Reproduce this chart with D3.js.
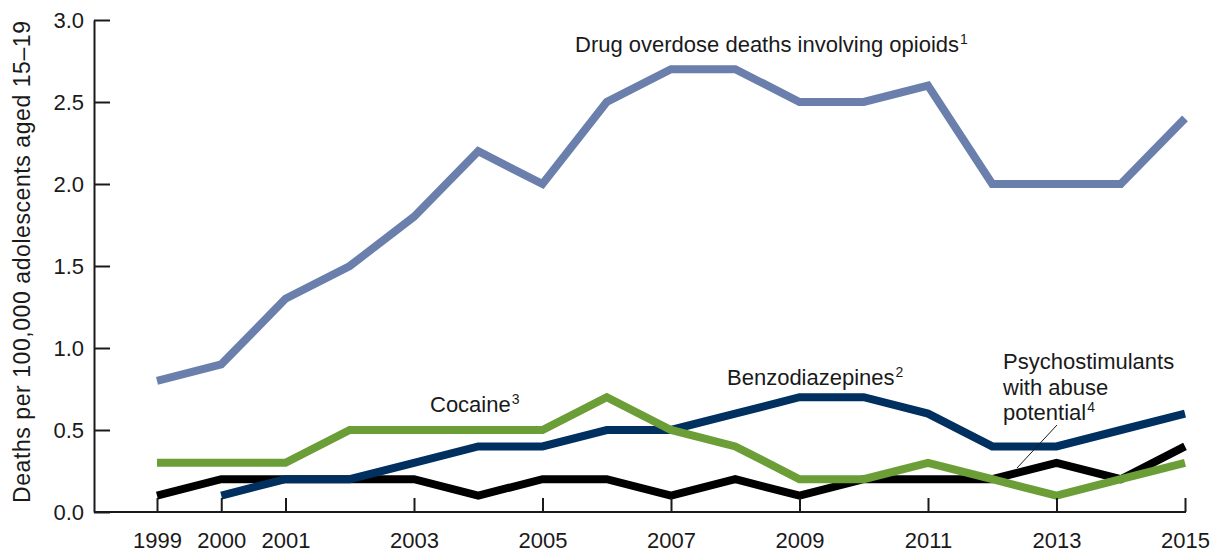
<!DOCTYPE html>
<html>
<head>
<meta charset="utf-8">
<script src="https://cdn.jsdelivr.net/npm/d3@7"></script>
<style>
  html, body { margin: 0; padding: 0; background: #fff; }
  svg { display: block; font-family: "Liberation Sans", Arial, sans-serif; }
</style>
</head>
<body>
<svg id="chart" width="1217" height="554"></svg>
<script>
// Death rates per 100,000 adolescents aged 15–19, 1999–2015
const years = [1999, 2000, 2001, 2002, 2003, 2004, 2005, 2006, 2007, 2008, 2009, 2010, 2011, 2012, 2013, 2014, 2015];
const opioids = [0.8, 0.9, 1.3, 1.5, 1.8, 2.2, 2.0, 2.5, 2.7, 2.7, 2.5, 2.5, 2.6, 2.0, 2.0, 2.0, 2.4];
const benzodiazepines = [null, 0.1, 0.2, 0.2, 0.3, 0.4, 0.4, 0.5, 0.5, 0.6, 0.7, 0.7, 0.6, 0.4, 0.4, 0.5, 0.6];
const cocaine = [0.3, 0.3, 0.3, 0.5, 0.5, 0.5, 0.5, 0.7, 0.5, 0.4, 0.2, 0.2, 0.3, 0.2, 0.1, 0.2, 0.3];
const psychostimulants = [0.1, 0.2, 0.2, 0.2, 0.2, 0.1, 0.2, 0.2, 0.1, 0.2, 0.1, 0.2, 0.2, 0.2, 0.3, 0.2, 0.4];
const yTicks = [0, 0.5, 1.0, 1.5, 2.0, 2.5, 3.0];
const xTicks = [1999, 2000, 2001, 2003, 2005, 2007, 2009, 2011, 2013, 2015];

const svg = d3.select("#chart");
const axisX0 = 94;
const fontSize = 22;
const supSize = 14;
const x = d3.scaleLinear().domain([1999, 2015]).range([157, 1185]);
const y = d3.scaleLinear().domain([0, 3]).range([512, 20]);
const ink = "#1a1a1a";

// Series drawn bottom to top
const series = [
  { name: "psychostimulants", values: psychostimulants, color: "#000000" },
  { name: "benzodiazepines", values: benzodiazepines, color: "#00305f" },
  { name: "cocaine", values: cocaine, color: "#6b9e37" },
  { name: "opioids", values: opioids, color: "#6a7fac" }
];

const line = d3.line()
  .defined(d => d.v != null)
  .x(d => x(d.year))
  .y(d => y(d.v));

svg.append("g").selectAll("path")
  .data(series)
  .join("path")
  .attr("d", s => line(years.map((yr, i) => ({ year: yr, v: s.values[i] }))))
  .attr("fill", "none")
  .attr("stroke", s => s.color)
  .attr("stroke-width", 8)
  .attr("stroke-linejoin", "miter")
  .attr("stroke-linecap", "butt");

// Y axis with inward ticks
const yAxis = svg.append("g")
  .attr("transform", `translate(${axisX0},0)`)
  .call(d3.axisLeft(y).tickValues(yTicks).tickFormat(d3.format(".1f")).tickSizeInner(-16).tickSizeOuter(0).tickPadding(10));
yAxis.select(".domain").attr("stroke", ink).attr("stroke-width", 2);
yAxis.selectAll(".tick line").attr("stroke", ink).attr("stroke-width", 2);
yAxis.selectAll(".tick text").attr("font-size", fontSize).attr("fill", ink)
  .attr("font-family", "Liberation Sans, Arial, sans-serif");

// X axis with upward ticks
const xAxis = svg.append("g")
  .attr("transform", `translate(0,${y(0)})`)
  .call(d3.axisBottom(x).tickValues(xTicks).tickFormat(d3.format("d")).tickSizeInner(-14).tickSizeOuter(0).tickPadding(20));
xAxis.select(".domain").remove();
xAxis.append("line")
  .attr("x1", axisX0).attr("x2", x(2015) + 1)
  .attr("stroke", ink).attr("stroke-width", 2);
xAxis.selectAll(".tick line").attr("stroke", ink).attr("stroke-width", 2);
xAxis.selectAll(".tick text").attr("font-size", fontSize).attr("fill", ink)
  .attr("font-family", "Liberation Sans, Arial, sans-serif");

// Y axis title
svg.append("text")
  .attr("transform", `translate(30,262) rotate(-90)`)
  .attr("text-anchor", "middle")
  .attr("font-size", 23)
  .attr("textLength", 482)
  .attr("lengthAdjust", "spacing")
  .attr("fill", ink)
  .text("Deaths per 100,000 adolescents aged 15–19");

// Series labels with superscript footnote markers
function label(xPos, yPos, lines) {
  const t = svg.append("text")
    .attr("x", xPos).attr("y", yPos)
    .attr("font-size", fontSize).attr("fill", ink);
  lines.forEach((ln, i) => {
    t.append("tspan").attr("x", xPos).attr("y", yPos + i * 25.5).text(ln.text);
    if (ln.sup) {
      t.append("tspan").attr("font-size", supSize).attr("dx", 1).attr("y", yPos + i * 25.5 - 8).text(ln.sup);
    }
  });
}
label(575, 52, [{ text: "Drug overdose deaths involving opioids", sup: "1" }]);
label(430, 412, [{ text: "Cocaine", sup: "3" }]);
label(727, 385, [{ text: "Benzodiazepines", sup: "2" }]);
label(1003, 369, [{ text: "Psychostimulants" }, { text: "with abuse" }, { text: "potential", sup: "4" }]);

// Leader line for the psychostimulants label
svg.append("line")
  .attr("x1", 1057).attr("y1", 425)
  .attr("x2", 1017).attr("y2", 468)
  .attr("stroke", ink).attr("stroke-width", 1);
</script>
</body>
</html>
